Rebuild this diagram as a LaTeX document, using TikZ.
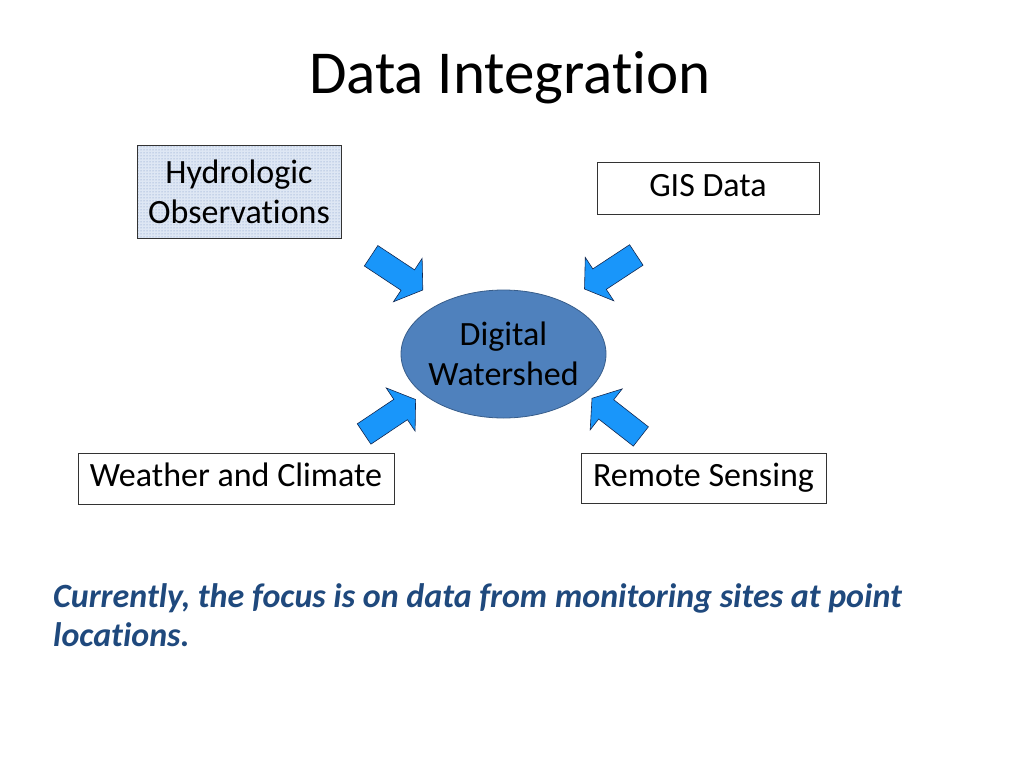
\documentclass[tikz,border=0pt]{standalone}
\usepackage{fontspec}
\setmainfont{Carlito}[Ligatures=NoCommon]
\usepackage{xcolor}
\usetikzlibrary{shapes.geometric,patterns}
\definecolor{wsblue}{RGB}{79,129,189}
\definecolor{wsedge}{RGB}{56,93,138}
\definecolor{arrblue}{RGB}{25,150,250}
\definecolor{arredge}{RGB}{20,40,80}
\definecolor{notecol}{RGB}{31,73,125}
\definecolor{hydrofill}{RGB}{222,231,244}
\definecolor{hydrodot}{RGB}{115,145,195}

\begin{document}
\begin{tikzpicture}[x=1pt,y=-1pt,
    srcbox/.style={draw=black!80,line width=0.9pt,inner sep=0pt,align=center,font=\fontsize{34}{40}\selectfont},
    oneline/.style={text height=23pt,text depth=6.6pt},
    inarrow/.pic={
      \draw[arredge,line width=0.6pt,fill=arrblue,line join=miter]
        (-62,-12.25) -- (-18,-12.25) -- (-18,-26) -- (0,0) -- (-18,26) -- (-18,12.25) -- (-62,12.25) -- cycle;}]
  \useasboundingbox (0,0) rectangle (1024,768);
  % title
  \node[anchor=base,inner sep=0pt,font=\fontsize{61}{73}\selectfont] (title) at (510,93.3) {Data Integration};
  % data sources
  \node[srcbox,minimum width=204pt,minimum height=93pt,
    preaction={fill=hydrofill},pattern=dots,pattern color=hydrodot] (hydro) at (239,191.5) {Hydrologic\\Observations};
  \node[srcbox,oneline,minimum width=222pt,minimum height=52pt] (gis) at (708,188) {GIS Data};
  \node[srcbox,oneline,minimum width=316pt,minimum height=51pt] (weather) at (236,478.5) {Weather and Climate};
  \node[srcbox,oneline,minimum width=245pt,minimum height=50pt] (remote) at (703.5,478) {Remote Sensing};
  % centre
  \node[ellipse,draw=wsedge,line width=0.8pt,fill=wsblue,minimum width=205pt,minimum height=128pt,
    inner xsep=-3pt,inner ysep=0pt,align=center,font=\fontsize{34}{40}\selectfont] (ws) at (503.5,354) {Digital\\Watershed};
  % block arrows into the watershed
  \pic[rotate=-33.5] at (422.8,290) {inarrow};
  \pic[rotate=213.3] at (584.5,289) {inarrow};
  \pic[rotate=33.8] at (415.6,399.5) {inarrow};
  \pic[rotate=142] at (592,398.3) {inarrow};
  % note
  \node[anchor=base west,align=left,inner sep=0pt,text=notecol,
    font=\fontsize{34}{39.5}\selectfont\bfseries\itshape] (note) at (53,646.7)
    {Currently, the focus is on data from monitoring sites at point\\locations.};
\end{tikzpicture}
\end{document}
